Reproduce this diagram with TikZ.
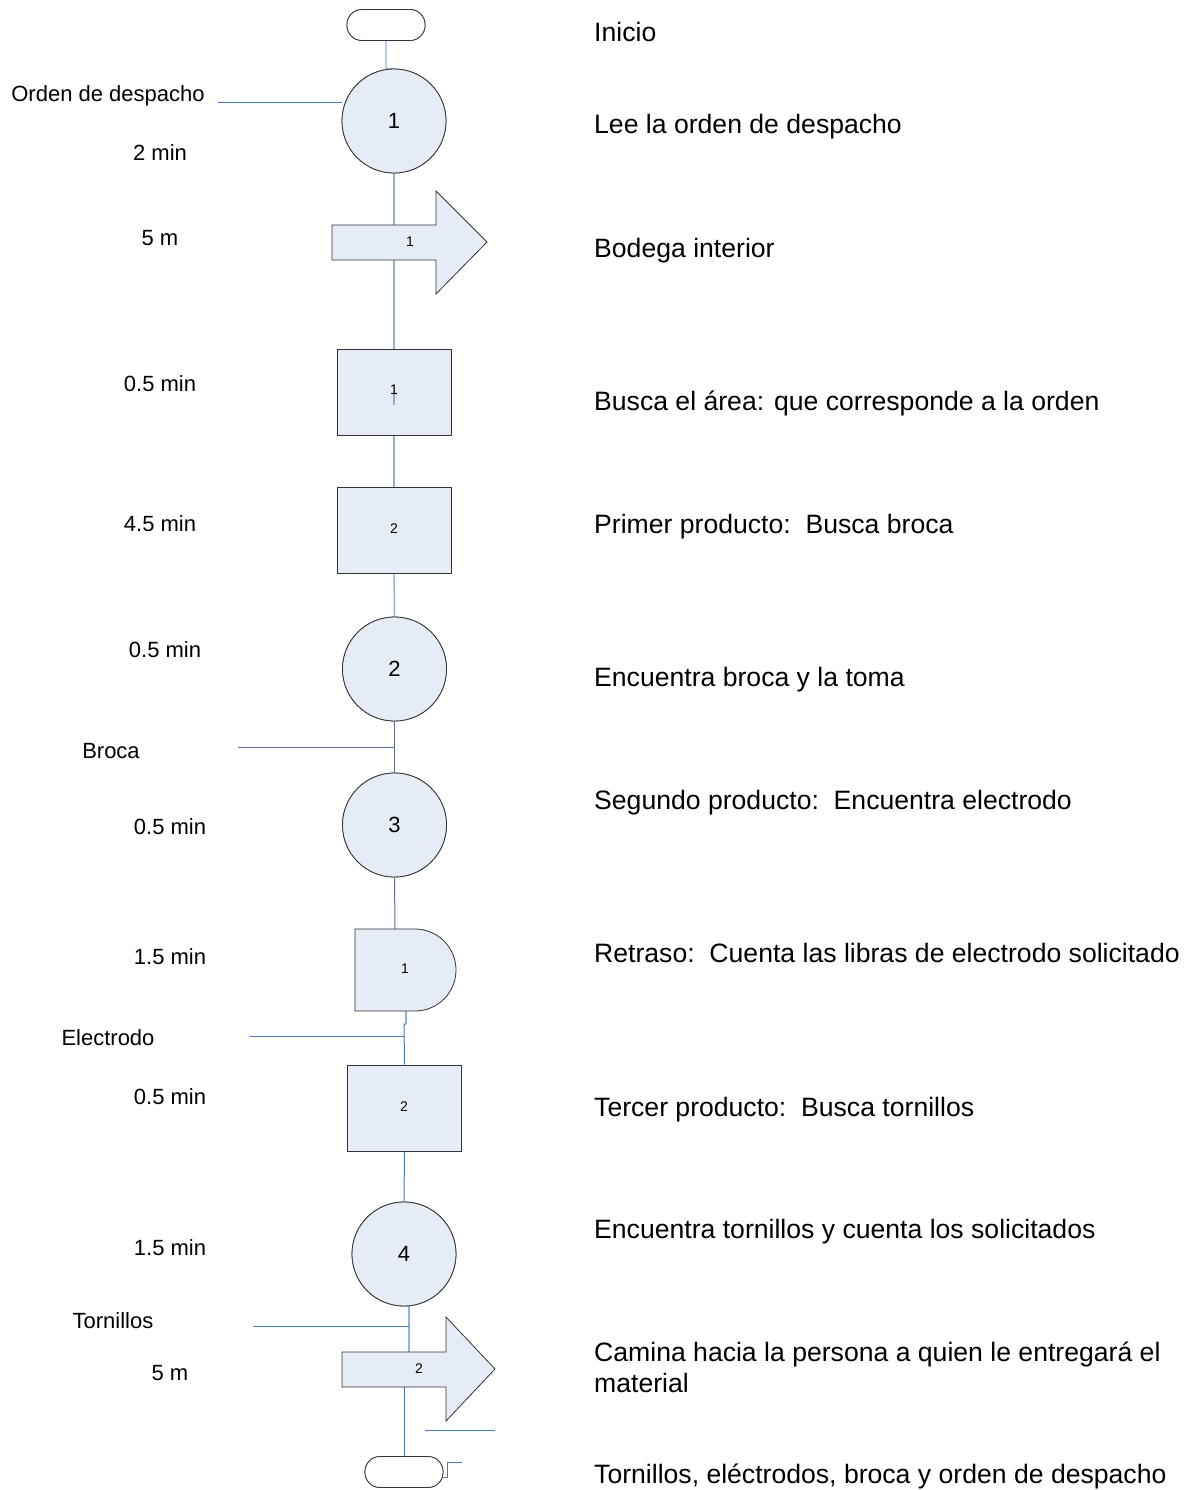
\documentclass[tikz,border=0pt]{standalone}
\usepackage{fontspec}
\setmainfont{Liberation Sans}
\definecolor{shapefill}{HTML}{E6ECF6}
\definecolor{lightln}{HTML}{92B0DE}
\definecolor{darkln}{HTML}{4A78C0}
\definecolor{slateln}{HTML}{5A6E96}
\begin{document}
\begin{tikzpicture}[x=1pt,y=-1pt,
  shp/.style={draw=black!80, fill=shapefill, line width=0.8pt},
  termbox/.style={draw=black!80, fill=white, line width=0.8pt, rounded corners=15pt, minimum width=78pt, minimum height=31pt, inner sep=0pt},
  circ/.style={shp, circle, minimum size=104pt, inner sep=0pt, font=\fontsize{22}{24}\selectfont},
  box/.style={shp, rectangle, minimum width=114pt, minimum height=86pt, inner sep=0pt},
  small/.style={font=\fontsize{14}{16}\selectfont, inner sep=0pt},
  lnA/.style={draw=lightln, line width=1.4pt},
  lnB/.style={draw=darkln, line width=1pt},
  lnS/.style={draw=slateln, line width=1pt},
  lab/.style={font=\fontsize{22}{26}\selectfont, anchor=base, inner sep=0pt},
  desc/.style={font=\fontsize{26.6}{31}\selectfont, anchor=base west, inner sep=0pt, align=left}
]
\useasboundingbox (0,0) rectangle (1184,1490);

% ---------- connectors (drawn first, shapes on top) ----------
\node[termbox] (t1) at (386,25) {};
\coordinate (k1) at (386,69);
\coordinate (a1top) at (394,225);
\coordinate (a1bot) at (394,260);
\coordinate (a2top) at (409,1352);
\coordinate (a2bot) at (404,1387);
\coordinate (ordenL) at (218,103);
\coordinate (brocaL) at (238,747);
\coordinate (brocaR) at (395,747);
\coordinate (electL) at (250,1036);
\coordinate (electR) at (404,1036);
\coordinate (tornL) at (253,1326);
\coordinate (tornR) at (409,1326);
\coordinate (dtop) at (395,929);
\coordinate (dbot) at (406,1011);
\coordinate (djog) at (406,1024);
\coordinate (lowL) at (425,1430);
\coordinate (lowR) at (495,1430);

\node[circ] (c1) at (394,121) {};
\node[box] (r1) at (394,392) {};
\node[box] (r2) at (394,530) {};
\node[circ] (c2) at (394.5,669) {};
\node[circ] (c3) at (394.5,825) {};
\node[box] (r3) at (404.5,1108) {};
\node[circ] (c4) at (404,1254) {};
\node[termbox] (t2) at (404,1472) {};

\draw[lnA] (t1.south) -- (k1) -- (c1.north);
\draw[lnB] (ordenL) -- (c1.west |- ordenL);
\draw[lnA] (c1.south) -- (a1top);
\draw[lnA] (a1bot) -- (r1.north);
\draw[lnA] (r1.south) -- (r2.north);
\draw[lnA] (r2.south) -- (c2.north);
\draw[lnS] (c2.south) -- (c3.north);
\draw[lnS] (brocaL) -- (brocaR);
\draw[lnS] (c3.south) -- (dtop);
\draw[lnA] (dbot) -- (djog);
\draw[lnB] (djog) -- ++(-2,0) -- (r3.north);
\draw[lnB] (electL) -- (electR);
\draw[lnB] (r3.south) -- (c4.north);
\draw[lnA] (c4.south -| a2top) -- (a2top);
\draw[lnB] (tornL) -- (tornR);
\draw[lnB] (a2bot) -- (t2.north);
\draw[lnB] (lowL) -- (lowR);
\draw[lnB] (t2.east) ++(0,5) -- ++(4,0) |- (462,1462);

% ---------- shapes ----------
\node[termbox] at (t1) {};
\node[circ] at (c1) {1};
\draw[shp] (332,225) -- (436,225) -- (436,191) -- (487,242) -- (436,294) -- (436,260) -- (332,260) -- cycle;
\node[small] (a1) at (410,242) {1};
\node[box] at (r1) {};
\draw[lnA] (394,393) -- (394,405);
\node[small] (r1t) at (394,390) {1};
\node[box] at (r2) {};
\node[small] (r2t) at (394,529) {2};
\node[circ] at (c2) {2};
\node[circ] at (c3) {3};
\draw[shp] (355,929) -- (415,929) arc[start angle=-90, end angle=90, radius=41] -- (355,1011) -- cycle;
\node[small] (d1) at (405,969) {1};
\node[box] at (r3) {};
\node[small] (r3t) at (404,1107) {2};
\node[circ] at (c4) {4};
\draw[shp] (342,1352) -- (446,1352) -- (446,1317) -- (495,1369) -- (446,1421) -- (446,1387) -- (342,1387) -- cycle;
\node[small] (a2) at (419,1369) {2};
\node[termbox] at (t2) {};

% ---------- left labels ----------
\node[lab] (L1) at (108,102) {Orden de despacho};
\node[lab] (L2) at (160,161) {2 min};
\node[lab] (L3) at (160,245) {5 m};
\node[lab] (L4) at (160,391) {0.5 min};
\node[lab] (L5) at (160,531) {4.5 min};
\node[lab] (L6) at (165,657) {0.5 min};
\node[lab] (L7) at (111,758) {Broca};
\node[lab] (L8) at (170,834) {0.5 min};
\node[lab] (L9) at (170,964) {1.5 min};
\node[lab] (L10) at (108,1045) {Electrodo};
\node[lab] (L11) at (170,1104) {0.5 min};
\node[lab] (L12) at (170,1255) {1.5 min};
\node[lab] (L13) at (113,1328) {Tornillos};
\node[lab] (L14) at (170,1380) {5 m};

% ---------- right descriptions ----------
\node[desc] (D1) at (594,42) {Inicio};
\node[desc] (D2) at (594,134) {Lee la orden de despacho};
\node[desc] (D3) at (594,257) {Bodega interior};
\node[desc] (D4) at (594,410) {Busca el área: que corresponde a la orden};
\node[desc] (D5) at (594,533) {Primer producto:\ \ Busca broca};
\node[desc] (D6) at (594,686) {Encuentra broca y la toma};
\node[desc] (D7) at (594,809) {Segundo producto:\ \ Encuentra electrodo};
\node[desc] (D8) at (594,962) {Retraso:\ \ Cuenta las libras de electrodo solicitado};
\node[desc] (D9) at (594,1116) {Tercer producto:\ \ Busca tornillos};
\node[desc] (D10) at (594,1238) {Encuentra tornillos y cuenta los solicitados};
\node[desc] (D11) at (594,1361) {Camina hacia la persona a quien le entregará el};
\node[desc] (D12) at (594,1392) {material};
\node[desc] (D13) at (594,1483) {Tornillos, eléctrodos, broca y orden de despacho};
\end{tikzpicture}
\end{document}
